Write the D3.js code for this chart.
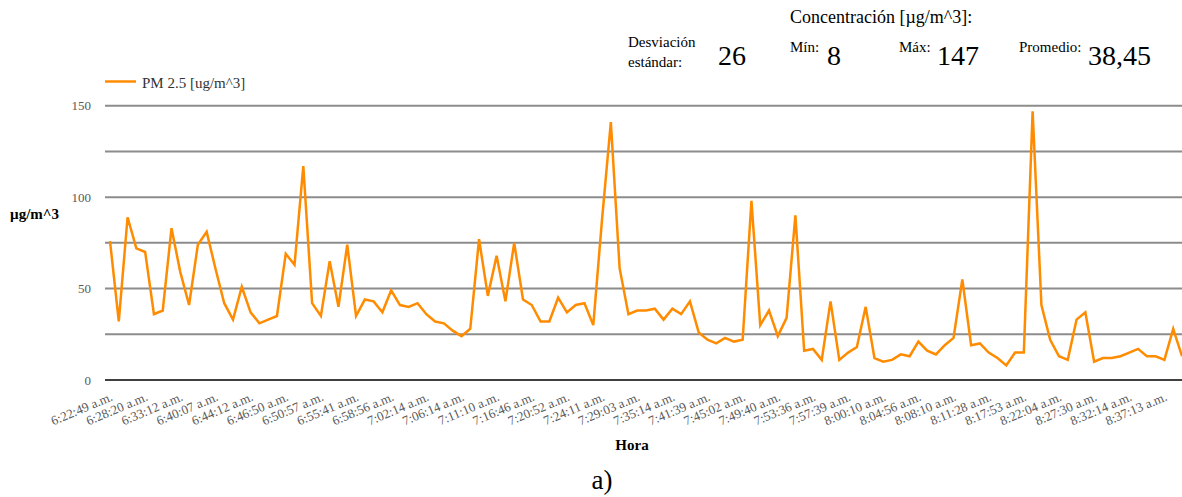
<!DOCTYPE html>
<html>
<head>
<meta charset="utf-8">
<script src="https://cdn.jsdelivr.net/npm/d3@7"></script>
<style>
  html, body { margin: 0; padding: 0; background: #fff; }
  svg { display: block; }
  svg text { font-family: "Liberation Serif", "Times New Roman", serif; }
</style>
</head>
<body>
<svg id="chart" width="1182" height="497"></svg>
<script>
// PM 2.5 readings, one per sample time
const times = [
  "6:22:49 a.m.", "6:28:20 a.m.", "6:33:12 a.m.", "6:40:07 a.m.", "6:44:12 a.m.",
  "6:46:50 a.m.", "6:50:57 a.m.", "6:55:41 a.m.", "6:58:56 a.m.", "7:02:14 a.m.",
  "7:06:14 a.m.", "7:11:10 a.m.", "7:16:46 a.m.", "7:20:52 a.m.", "7:24:11 a.m.",
  "7:29:03 a.m.", "7:35:14 a.m.", "7:41:39 a.m.", "7:45:02 a.m.", "7:49:40 a.m.",
  "7:53:36 a.m.", "7:57:39 a.m.", "8:00:10 a.m.", "8:04:56 a.m.", "8:08:10 a.m.",
  "8:11:28 a.m.", "8:17:53 a.m.", "8:22:04 a.m.", "8:27:30 a.m.", "8:32:14 a.m.",
  "8:37:13 a.m."
];
const pm25 = [
  76, 32, 89, 72, 70, 36, 38, 83, 59, 41,
  74, 81, 61, 42, 33, 51, 37, 31, 33, 35,
  69, 63, 117, 42, 35, 65, 40, 74, 35, 44,
  43, 37, 49, 41, 40, 42, 36, 32, 31, 27,
  24, 28, 77, 46, 68, 43, 75, 44, 41, 32,
  32, 45, 37, 41, 42, 30, 88, 141, 61, 36,
  38, 38, 39, 33, 39, 36, 43, 26, 22, 20,
  23, 21, 22, 98, 30, 38, 24, 34, 90, 16,
  17, 11, 43, 11, 15, 18, 40, 12, 10, 11,
  14, 13, 21, 16, 14, 19, 23, 55, 19, 20,
  15, 12, 8, 15, 15, 147, 41, 22, 13, 11,
  33, 37, 10, 12, 12, 13, 15, 17, 13, 13,
  11, 28, 13
];
const labelEvery = 4;          // one time label per four samples
const gridValues = [0, 25, 50, 75, 100, 125, 150];
const yTickValues = [0, 50, 100, 150];
const seriesName = "PM 2.5 [ug/m^3]";

// summary figures shown in the header
const statTitle = "Concentración [µg/m^3]:";
const stats = [
  { label: ["Desviación", "estándar:"], value: "26" },
  { label: ["Mín:"], value: "8" },
  { label: ["Máx:"], value: "147" },
  { label: ["Promedio:"], value: "38,45" }
];

const svg = d3.select("#chart");
const plotLeft = 105, plotRight = 1195;

const x = d3.scalePoint()
  .domain(d3.range(pm25.length))
  .range([110, 1182]);
const y = d3.scaleLinear().domain([0, 150]).range([380, 105.7]);

// horizontal gridlines
svg.append("g").selectAll("line")
  .data(gridValues)
  .join("line")
  .attr("x1", plotLeft).attr("x2", plotRight)
  .attr("y1", d => y(d)).attr("y2", d => y(d))
  .attr("stroke", d => d === 0 ? "#404040" : "#8c8c8c")
  .attr("stroke-width", 2);

// y axis labels
const yAxis = d3.axisLeft(y).tickValues(yTickValues).tickSize(0).tickPadding(0);
svg.append("g")
  .attr("transform", "translate(91,0)")
  .call(yAxis)
  .attr("font-family", null)
  .call(g => g.select(".domain").remove())
  .call(g => g.selectAll("text")
    .attr("fill", "#595959")
    .style("font-size", "13px"));

// x axis time labels, slanted
const tickIdx = d3.range(0, pm25.length, labelEvery).slice(0, times.length);
const xAxis = d3.axisBottom(x).tickValues(tickIdx)
  .tickFormat(i => times[i / labelEvery]).tickSize(0).tickPadding(0);
svg.append("g")
  .attr("transform", "translate(0,380)")
  .call(xAxis)
  .attr("font-family", null)
  .call(g => g.select(".domain").remove())
  .call(g => g.selectAll("text")
    .attr("fill", "#595959")
    .style("font-size", "13px")
    .attr("text-anchor", "end")
    .attr("dy", 0)
    .attr("y", 0)
    .attr("transform", "translate(3,20) rotate(-23)"));

// the series line
const line = d3.line().x((d, i) => x(i)).y(d => y(d));
svg.append("path")
  .datum(pm25)
  .attr("fill", "none")
  .attr("stroke", "#ff8c00")
  .attr("stroke-width", 2.5)
  .attr("stroke-linejoin", "miter")
  .attr("d", line);

// legend
svg.append("line")
  .attr("x1", 105).attr("x2", 136).attr("y1", 81.5).attr("y2", 81.5)
  .attr("stroke", "#ff8c00").attr("stroke-width", 2.5);
svg.append("text")
  .attr("x", 142).attr("y", 88)
  .style("font-size", "15px").attr("fill", "#333")
  .text(seriesName);

// axis titles
svg.append("text")
  .attr("x", 10).attr("y", 219)
  .style("font-size", "15px").attr("font-weight", "bold")
  .text("µg/m^3");
svg.append("text")
  .attr("x", 632).attr("y", 450)
  .attr("text-anchor", "middle")
  .style("font-size", "15px").attr("font-weight", "bold")
  .text("Hora");
svg.append("text")
  .attr("x", 602).attr("y", 489)
  .attr("text-anchor", "middle")
  .style("font-size", "27px")
  .text("a)");

// header statistics
svg.append("text")
  .attr("x", 790).attr("y", 23)
  .style("font-size", "18px")
  .text(statTitle);

const statPos = [
  { lx: 628, vx: 718 },
  { lx: 790, vx: 827 },
  { lx: 899, vx: 937 },
  { lx: 1019, vx: 1088 }
];
stats.forEach((s, k) => {
  const p = statPos[k];
  const t = svg.append("text").style("font-size", "15px");
  if (s.label.length === 2) {
    t.append("tspan").attr("x", p.lx).attr("y", 47).text(s.label[0]);
    t.append("tspan").attr("x", p.lx).attr("y", 67).text(s.label[1]);
  } else {
    t.append("tspan").attr("x", p.lx).attr("y", 52).text(s.label[0]);
  }
  svg.append("text")
    .attr("x", p.vx).attr("y", 65)
    .style("font-size", "28px")
    .text(s.value);
});
</script>
</body>
</html>
